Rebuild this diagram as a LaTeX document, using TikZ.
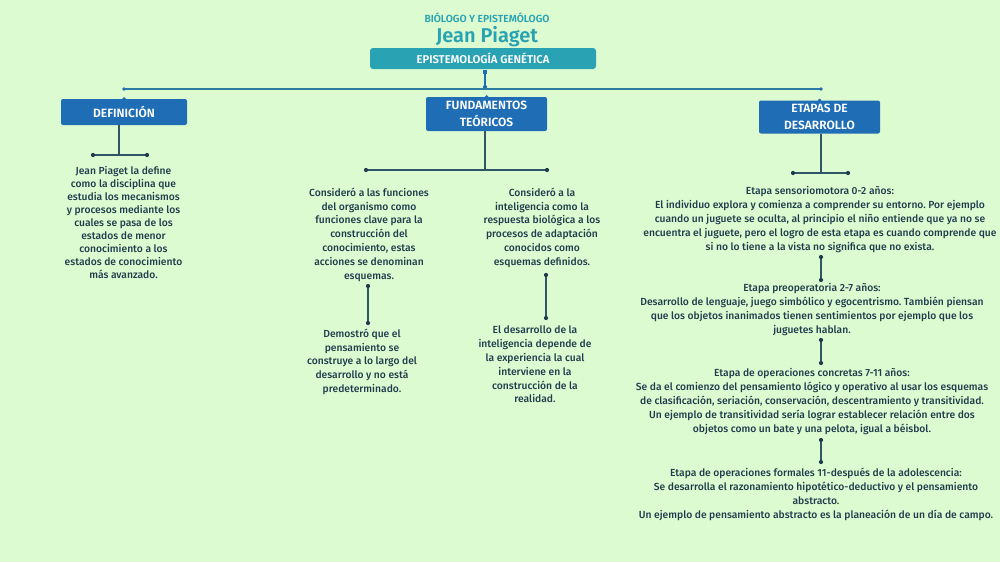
\documentclass[tikz,border=0pt]{standalone}
\usepackage{fontspec}
\setmainfont{Fira Sans}[UprightFont={* Medium},BoldFont={* SemiBold}]
\frenchspacing
\definecolor{bgc}{HTML}{DDFBD0}
\definecolor{tealc}{HTML}{29A3B3}
\definecolor{bluec}{HTML}{1F6DB5}
\definecolor{navyc}{HTML}{1F3B4D}
\definecolor{slatec}{HTML}{2F5566}
\definecolor{mainc}{HTML}{2E7DA0}
\begin{document}
\begin{tikzpicture}[x=1pt,y=-1pt,
  rootbox/.style={fill=tealc,rounded corners=3pt,text=white,font=\bfseries\fontsize{11.3}{13}\selectfont,minimum width=226pt,minimum height=21pt,inner sep=0pt},
  catbox/.style={fill=bluec,rounded corners=2pt,text=white,font=\bfseries\fontsize{12}{17}\selectfont,align=center,inner sep=0pt,minimum width=121pt},
  body/.style={text=navyc,font=\fontsize{10.3}{13.9}\selectfont\frenchspacing,align=center,inner sep=0pt,anchor=north},
  bodyd/.style={body,font=\fontsize{10.3}{13}\selectfont\frenchspacing},
  dotn/.style={circle,fill=navyc,inner sep=0pt,minimum size=4.2pt},
  bdot/.style={circle,fill=bluec,inner sep=0pt,minimum size=4.2pt},
  link/.style={draw=slatec,line width=1.3pt},
  mainline/.style={draw=mainc,line width=1.3pt}]
\fill[bgc] (0,0) rectangle (1000,562);
\useasboundingbox (0,0) rectangle (1000,562);

% titles
\node[text=tealc,font=\bfseries\fontsize{10.3}{12}\selectfont] (sub) at (487,18) {BIÓLOGO Y EPISTEMÓLOGO};
\node[text=tealc,font=\bfseries\fontsize{20}{24}\selectfont] (name) at (487,37) {Jean Piaget};
\node[rootbox] (root) at (483,58.5) {EPISTEMOLOGÍA GENÉTICA};

% root connector
\node[fill=bluec,inner sep=0pt,minimum size=4pt] (sq) at (485,72) {};
\node[bdot] (rdot) at (485,87) {};
\draw[draw=bluec,line width=1.1pt] (sq) -- (rdot);
\coordinate (mL) at (124,89);
\coordinate (mR) at (821,89);
\draw[mainline] (mL) -- (mR);
\node[bdot,minimum size=3.6pt] at (mL) {};
\node[bdot,minimum size=3.6pt] at (mR) {};

% category boxes
\node[catbox,minimum width=126pt,minimum height=26pt] (def) at (124,112) {DEFINICIÓN};
\node[catbox,minimum height=34pt] (fund) at (486.5,114) {FUNDAMENTOS\\TEÓRICOS};
\node[catbox,minimum height=33pt] (etap) at (819.5,117) {ETAPAS DE\\DESARROLLO};
\node[bdot,minimum size=3.6pt] at (def.north) {};
\node[bdot,minimum size=3.6pt] at (fund.north) {};
\node[bdot,minimum size=3.6pt] at (etap.north) {};

% definicion branch
\coordinate (dj) at (119,155);
\node[dotn] (dl) at (93,155) {};
\node[dotn] (dr) at (147,155) {};
\draw[link] (def.south -| dj) -- (dj);
\draw[link] (dl) -- (dr);
\node[bodyd] (dtext) at (123.5,166.5) {Jean Piaget la define\\como la disciplina que\\estudia los mecanismos\\y procesos mediante los\\cuales se pasa de los\\estados de menor\\conocimiento a los\\estados de conocimiento\\más avanzado.};

% fundamentos branch
\coordinate (fj) at (485,170);
\node[dotn] (fl) at (366,170) {};
\node[dotn] (fr) at (547,170) {};
\draw[link] (fund.south -| fj) -- (fj);
\draw[link] (fl) -- (fr);
\node[body] (f1) at (369,187.5) {Consideró a las funciones\\del organismo como\\funciones clave para la\\construcción del\\conocimiento, estas\\acciones se denominan\\esquemas.};
\node[body] (f2) at (542,187.5) {Consideró a la\\inteligencia como la\\respuesta biológica a los\\procesos de adaptación\\conocidos como\\esquemas definidos.};
\node[dotn] (f1a) at (368,286) {};
\node[dotn] (f1b) at (368,323) {};
\draw[link] (f1a) -- (f1b);
\node[dotn] (f2a) at (546,275) {};
\node[dotn] (f2b) at (546,318) {};
\draw[link] (f2a) -- (f2b);
\node[body] (f3) at (362,328.5) {Demostró que el\\pensamiento se\\construye a lo largo del\\desarrollo y no está\\predeterminado.};
\node[body] (f4) at (535,325.5) {El desarrollo de la\\inteligencia depende de\\la experiencia la cual\\interviene en la\\construcción de la\\realidad.};

% etapas branch
\coordinate (ej) at (821,173);
\node[dotn] (el) at (793,173) {};
\node[dotn] (er) at (848,173) {};
\draw[link] (etap.south -| ej) -- (ej);
\draw[link] (el) -- (er);
\node[body] (e1) at (820,186) {Etapa sensoriomotora 0-2 años:\\El individuo explora y comienza a comprender su entorno. Por ejemplo\\cuando un juguete se oculta, al principio el niño entiende que ya no se\\encuentra el juguete, pero el logro de esta etapa es cuando comprende que\\si no lo tiene a la vista no significa que no exista.};
\node[dotn] (e1a) at (821,257) {};
\node[dotn] (e1b) at (821,280) {};
\draw[link] (e1a) -- (e1b);
\node[body] (e2) at (812,283) {Etapa preoperatoria 2-7 años:\\Desarrollo de lenguaje, juego simbólico y egocentrismo. También piensan\\que los objetos inanimados tienen sentimientos por ejemplo que los\\juguetes hablan.};
\node[dotn] (e2a) at (821,340) {};
\node[dotn] (e2b) at (821,363) {};
\draw[link] (e2a) -- (e2b);
\node[body] (e3) at (812,368) {Etapa de operaciones concretas 7-11 años:\\Se da el comienzo del pensamiento lógico y operativo al usar los esquemas\\de clasificación, seriación, conservación, descentramiento y transitividad.\\Un ejemplo de transitividad sería lograr establecer relación entre dos\\objetos como un bate y una pelota, igual a béisbol.};
\node[dotn] (e3a) at (821,440) {};
\node[dotn] (e3b) at (821,462) {};
\draw[link] (e3a) -- (e3b);
\node[body] (e4) at (816,468) {Etapa de operaciones formales 11-después de la adolescencia:\\Se desarrolla el razonamiento hipotético-deductivo y el pensamiento\\abstracto.\\Un ejemplo de pensamiento abstracto es la planeación de un día de campo.};
\end{tikzpicture}
\end{document}
